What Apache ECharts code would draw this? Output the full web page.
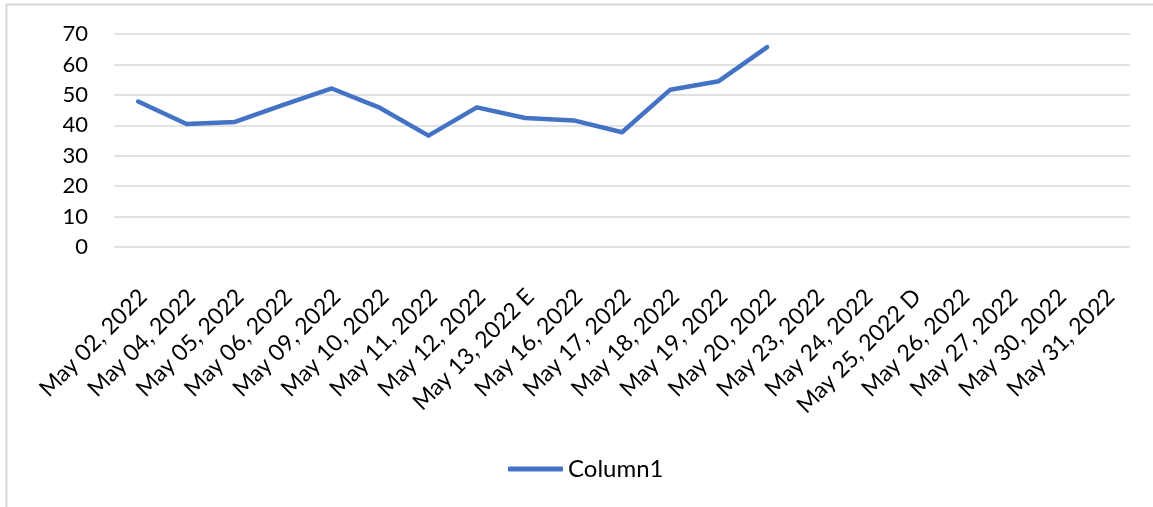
<!DOCTYPE html>
<html><head><meta charset="utf-8">
<style>html,body{margin:0;padding:0;background:#fff}#c{width:1153px;height:507px}</style>
<script src="https://cdn.jsdelivr.net/npm/echarts@6/dist/echarts.min.js"></script>
</head><body><div id="c"></div>
<script>
const categories = ["May 02, 2022","May 04, 2022","May 05, 2022","May 06, 2022","May 09, 2022","May 10, 2022","May 11, 2022","May 12, 2022","May 13, 2022 E","May 16, 2022","May 17, 2022","May 18, 2022","May 19, 2022","May 20, 2022","May 23, 2022","May 24, 2022","May 25, 2022 D","May 26, 2022","May 27, 2022","May 30, 2022","May 31, 2022"];
const column1 = [47.8,40.4,41.1,46.7,52.1,45.7,36.6,45.9,42.4,41.6,37.7,51.7,54.5,65.7,null,null,null,null,null,null,null];
const seriesName = "Column1";
const yTicks = {min:0,max:70,interval:10};
const FONT = "Lato, 'Open Sans', sans-serif";
const chart = echarts.init(document.getElementById('c'));
chart.setOption({
  animation:false,
  backgroundColor:'#fff',
  graphic:[{type:'rect',shape:{x:6.5,y:4.5,width:1160,height:520},style:{fill:null,stroke:'#d9d9d9',lineWidth:2},silent:true}],
  grid:{left:114,right:23,top:34,bottom:260,containLabel:false},
  legend:{top:452,left:503,itemWidth:55,itemHeight:5,itemGap:4,
    textStyle:{fontFamily:FONT,fontSize:24,color:'#000'},data:[{name:seriesName,icon:'roundRect'}]},
  xAxis:{type:'category',data:categories,boundaryGap:true,
    axisLine:{show:false},axisTick:{show:false},
    axisLabel:{rotate:45,interval:0,margin:41,verticalAlign:'top',lineHeight:14,fontFamily:FONT,fontSize:23,color:'#000'}},
  yAxis:{type:'value',min:yTicks.min,max:yTicks.max,interval:yTicks.interval,
    axisLine:{show:false},axisTick:{show:false},
    axisLabel:{fontFamily:FONT,fontSize:22,color:'#000',margin:26},
    splitLine:{lineStyle:{color:'#d9d9d9',width:1.5}}},
  series:[{name:seriesName,type:'line',data:column1,symbol:'none',
    lineStyle:{color:'#4472C4',width:4.5,cap:'round',join:'round'},itemStyle:{color:'#4472C4'}}]
});
</script></body></html>
